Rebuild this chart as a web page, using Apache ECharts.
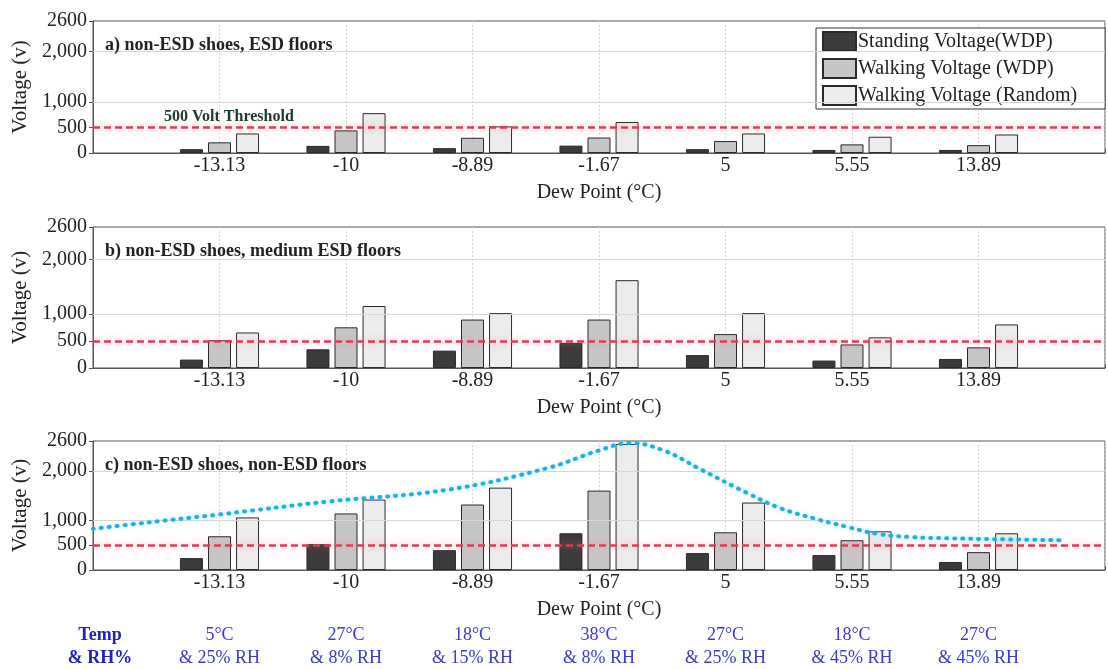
<!DOCTYPE html>
<html>
<head>
<meta charset="utf-8">
<script src="https://cdn.jsdelivr.net/npm/echarts@6/dist/echarts.min.js"></script>
<style>
html,body{margin:0;padding:0;background:#fff;}
#chart{width:1108px;height:669px;}
</style>
</head>
<body>
<div id="chart"></div>
<script>
// ---------- data ----------
const categories = ['-13.13', '-10', '-8.89', '-1.67', '5', '5.55', '13.89'];
const conditions = ['5°C\n& 25% RH', '27°C\n& 8% RH', '18°C\n& 15% RH', '38°C\n& 8% RH', '27°C\n& 25% RH', '18°C\n& 45% RH', '27°C\n& 45% RH'];
const conditionHeader = 'Temp\n& RH%';
const seriesNames = ['Standing Voltage(WDP)', 'Walking Voltage (WDP)', 'Walking Voltage (Random)'];
const panelTitles = ['a) non-ESD shoes, ESD floors', 'b) non-ESD shoes, medium ESD floors', 'c) non-ESD shoes, non-ESD floors'];

// a) ESD floors
const standA = [75, 140, 95, 145, 75, 60, 60];
const walkA  = [210, 445, 300, 305, 235, 170, 155];
const randA  = [385, 785, 525, 610, 385, 320, 365];
// b) medium ESD floors
const standB = [155, 345, 320, 465, 238, 137, 167];
const walkB  = [512, 750, 893, 893, 625, 434, 381];
const randB  = [655, 1143, 1012, 1619, 1012, 565, 803];
// c) non-ESD floors
const standC = [240, 520, 400, 740, 340, 300, 160];
const walkC  = [680, 1140, 1320, 1600, 760, 600, 360];
const randC  = [1060, 1420, 1660, 2540, 1360, 780, 740];

// dotted trend curve in panel c (x in category units, 1 = first category)
const trendX = [0, 0.44, 1.0, 1.86, 2.81, 3.6, 3.99, 4.25, 4.52, 4.78, 5.18, 5.44, 5.70, 5.96, 6.22, 6.49, 6.75, 7.15, 7.68];
const trendY = [830, 960, 1120, 1380, 1620, 2060, 2400, 2560, 2400, 2060, 1540, 1240, 1040, 870, 720, 660, 640, 620, 600];

const threshold = 500;
const yTicks = [0, 500, 1000, 2000, 2600];
const yTickText = {0: '0', 500: '500', 1000: '1,000', 2000: '2,000', 2600: '2600'};
const yMax = 2600;

// ---------- styling ----------
const FONT = '"Liberation Serif", "Times New Roman", serif';
const barColors = ['#3b3b3b', '#c6c6c6', '#ececec'];
const panels = [
  {top: 21, height: 132, data: [standA, walkA, randA]},
  {top: 227, height: 141, data: [standB, walkB, randB]},
  {top: 441, height: 129, data: [standC, walkC, randC]}
];

const grids = [], xAxes = [], yAxes = [], series = [], titles = [];
panels.forEach((p, i) => {
  grids.push({left: 93, right: 1, top: p.top, height: p.height, show: true, borderColor: '#555', borderWidth: 1, backgroundColor: '#fff'});
  xAxes.push({
    type: 'value', gridIndex: i, min: 0, max: categories.length + 1, interval: 1,
    name: 'Dew Point (°C)', nameLocation: 'middle', nameGap: 30,
    nameTextStyle: {fontFamily: FONT, fontSize: 20, color: '#222'},
    axisLine: {show: true, lineStyle: {color: '#555', width: 1}},
    axisTick: {show: true, inside: true, length: 4, lineStyle: {color: '#555'}},
    axisLabel: {fontFamily: FONT, fontSize: 20, color: '#222', margin: 3,
      formatter: v => (v >= 1 && v <= categories.length) ? categories[v - 1] : ''},
    splitLine: {show: true, lineStyle: {color: '#d6d6d6', type: [2, 2], width: 1}}
  });
  yAxes.push({
    type: 'value', gridIndex: i, min: 0, max: yMax,
    name: 'Voltage (v)', nameLocation: 'middle', nameGap: 50,
    nameTextStyle: {fontFamily: FONT, fontSize: 21, color: '#222'},
    axisLine: {show: true, lineStyle: {color: '#555', width: 1}},
    axisTick: {show: true, length: 4, customValues: yTicks, lineStyle: {color: '#555'}},
    axisLabel: {fontFamily: FONT, fontSize: 20, color: '#222', margin: 6, customValues: yTicks,
      formatter: v => yTickText[v] !== undefined ? yTickText[v] : ''},
    splitLine: {show: false}
  });
  p.data.forEach((arr, k) => {
    const s = {
      name: seriesNames[k], type: 'bar', xAxisIndex: i, yAxisIndex: i,
      barWidth: 23, barGap: '22%',
      itemStyle: {color: barColors[k], borderColor: '#2a2a2a', borderWidth: 1},
      data: arr.map((v, j) => [j + 1, v]),
      z: 3
    };
    if (k === 0) {
      s.markLine = {
        silent: true, symbol: 'none', label: {show: false}, z: 5,
        data: [
          {yAxis: 1000, lineStyle: {color: '#d6d6d6', type: 'solid', width: 1}},
          {yAxis: 2000, lineStyle: {color: '#d6d6d6', type: 'solid', width: 1}},
          {yAxis: threshold, lineStyle: {color: '#e23a55', type: [7, 4], width: 2.5, shadowColor: 'rgba(255,120,150,0.6)', shadowBlur: 6}}
        ]
      };
    }
    series.push(s);
  });
  titles.push({text: panelTitles[i], left: 100, top: p.top + 10,
    textStyle: {fontFamily: FONT, fontSize: 18, fontWeight: 'bold', color: '#222'}});
});

series.push({
  name: 'trend', type: 'line', xAxisIndex: 2, yAxisIndex: 2, smooth: 0.4, symbol: 'none',
  lineStyle: {color: '#22aee0', width: 4, type: [1, 7], cap: 'round', shadowColor: 'rgba(120,220,255,0.6)', shadowBlur: 4},
  data: trendX.map((x, j) => [x, trendY[j]]), z: 6
});

titles.push({text: '500 Volt Threshold', left: 159, top: 104,
  textStyle: {fontFamily: FONT, fontSize: 16, fontWeight: 'bold', color: '#1d3a2c'}});

// condition row (uses its own x axis aligned with the panels)
grids.push({left: 93, right: 1, top: 622, height: 1, show: false});
xAxes.push({
  type: 'value', gridIndex: 3, min: 0, max: categories.length + 1, interval: 1,
  axisLine: {show: false}, axisTick: {show: false}, splitLine: {show: false},
  axisLabel: {show: true, margin: 2, fontFamily: FONT, fontSize: 18, color: '#3a3ad0', lineHeight: 23,
    formatter: v => v === 0 ? '{h|' + conditionHeader.split('\n').join('}\n{h|') + '}' : (v <= categories.length ? conditions[v - 1] : ''),
    rich: {h: {fontFamily: FONT, fontSize: 18, fontWeight: 'bold', color: '#2222b8', lineHeight: 23, padding: [0, 0, 0, 14]}}
  }
});
yAxes.push({type: 'value', gridIndex: 3, show: false});

const chart = echarts.init(document.getElementById('chart'), null, {renderer: 'canvas'});
chart.setOption({
  backgroundColor: '#fff',
  animation: false,
  title: titles,
  legend: {
    data: seriesNames, orient: 'vertical', left: 816, top: 28,
    itemWidth: 33, itemHeight: 19, itemGap: 6, icon: 'rect',
    backgroundColor: '#fff', borderColor: '#333', borderWidth: 1, padding: [3, 28, 3, 6],
    textStyle: {fontFamily: FONT, fontSize: 20, color: '#222', padding: [0, 0, 0, -3]}
  },
  grid: grids, xAxis: xAxes, yAxis: yAxes, series: series
});
</script>
</body>
</html>
